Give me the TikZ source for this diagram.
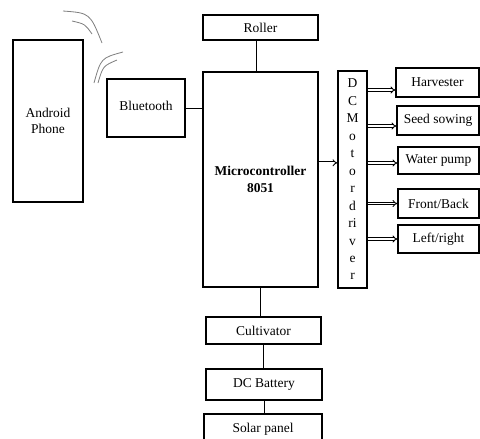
\documentclass[tikz,border=0pt]{standalone}
\usepackage{fontspec}
\setmainfont{Liberation Serif}
\usepackage{tikz}
\usetikzlibrary{arrows.meta,calc}

\begin{document}
\begin{tikzpicture}[
  x=0.03cm,y=-0.03cm,
  font=\fontsize{11.5}{14}\selectfont,
  block/.style={draw,line width=1.1pt,inner sep=1pt,align=center},
  wire/.style={line width=0.8pt},
  drive/.style={double,line width=0.75pt,double distance=1.2pt,-{Implies[length=3pt]}},
  wave/.style={gray,line width=0.7pt}
]
  \useasboundingbox (0,0) rectangle (480,438);

  % left side
  \node[block,minimum width=2.1cm,minimum height=4.86cm] (phone) at (48,121) {Android\\Phone};
  \node[block,minimum width=2.34cm,minimum height=1.74cm] (bt) at (146,108) {\raisebox{4pt}{Bluetooth}};

  % controller column
  \node[block,minimum width=3.45cm,minimum height=0.75cm] (roller) at (260.5,27.5) {Roller};
  \node[block,minimum width=3.45cm,minimum height=6.45cm,font=\fontsize{11.5}{14}\selectfont\bfseries] (mcu) at (260.5,179.5) {Microcontroller\\8051};
  \node[block,minimum width=3.45cm,minimum height=0.81cm] (cult) at (263.5,330.5) {Cultivator};
  \node[block,minimum width=3.48cm,minimum height=0.93cm] (batt) at (264,384.5) {DC Battery};
  \node[block,minimum width=3.54cm,minimum height=0.96cm] (solar) at (263,430) {\raisebox{4pt}{Solar panel}};

  % motor driver
  \node[block,minimum width=0.87cm,minimum height=6.51cm,font=\fontsize{11.5}{14.9}\selectfont] (drv) at (352.5,179.5)
    {D\\C\\M\\o\\t\\o\\r\\d\\ri\\v\\e\\r};

  % loads
  \node[block,minimum width=2.49cm,minimum height=0.87cm] (harv) at (437.5,82.5) {Harvester};
  \node[block,minimum width=2.46cm,minimum height=0.87cm] (seed) at (438,120.5) {Seed sowing};
  \node[block,minimum width=2.43cm,minimum height=0.81cm] (pump) at (438.5,160.5) {Water pump};
  \node[block,minimum width=2.43cm,minimum height=0.87cm] (fb) at (438.5,203.5) {Front/Back};
  \node[block,minimum width=2.43cm,minimum height=0.84cm] (lr) at (438.5,239) {Left/right};

  % arrow entry points on the loads
  \coordinate (mcuout) at ([yshift=0.5cm]mcu.east);
  \coordinate (harvin) at ([yshift=-0.225cm]harv.west);
  \coordinate (seedin) at ([yshift=-0.165cm]seed.west);
  \coordinate (pumpin) at ([yshift=-0.075cm]pump.west);

  % plain links
  \draw[wire] (bt.east) -- (bt.east -| mcu.west);
  \draw[wire] ([xshift=-0.13cm]roller.south) -- ([xshift=-0.13cm]roller.south |- mcu.north);
  \draw[wire] (mcu.south) -- (mcu.south |- cult.north);
  \draw[wire] (cult.south) -- (cult.south |- batt.north);
  \draw[wire] (batt.south) -- (batt.south |- solar.north);

  % drive arrows
  \draw[drive] (mcuout) -- (mcuout -| drv.west);
  \draw[drive] (harvin -| drv.east) -- (harvin);
  \draw[drive] (seedin -| drv.east) -- (seedin);
  \draw[drive] (pumpin -| drv.east) -- (pumpin);
  \draw[drive] (fb.west -| drv.east) -- (fb.west);
  \draw[drive] (lr.west -| drv.east) -- (lr.west);

  % radio waves
  \draw[wave] (63,11) .. controls (90,13) .. (102,43);
  \draw[wave] (72,21) .. controls (85,24) .. (92,34);
  \draw[wave] (123,52) .. controls (101,58) .. (94,83);
  \draw[wave] (117,60) .. controls (103,66) .. (98,83);
\end{tikzpicture}
\end{document}
